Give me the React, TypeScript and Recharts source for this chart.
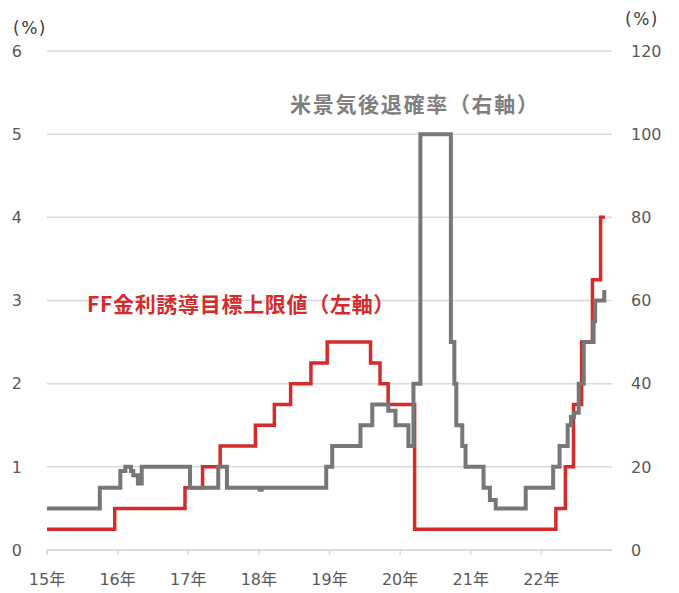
import React from 'react';
import { LineChart, Line, XAxis, YAxis, CartesianGrid } from 'recharts';

// FF金利誘導目標上限値 (left axis, %) — change dates and levels
const ffDates = [
  '2015-01-01', '2015-12-17', '2016-12-15', '2017-03-16', '2017-06-15',
  '2017-12-14', '2018-03-22', '2018-06-14', '2018-09-27', '2018-12-20',
  '2019-08-01', '2019-09-19', '2019-10-31', '2020-03-16', '2022-03-17',
  '2022-05-05', '2022-06-16', '2022-07-28', '2022-09-22', '2022-11-03',
  '2022-11-25',
];
const ffUpper = [
  0.25, 0.5, 0.75, 1.0, 1.25,
  1.5, 1.75, 2.0, 2.25, 2.5,
  2.25, 2.0, 1.75, 0.25, 0.5,
  1.0, 1.75, 2.5, 3.25, 4.0,
  4.0,
];

// 米景気後退確率 (right axis, %)
const recDates = [
  '2015-01-01', '2015-10-01', '2016-01-15', '2016-02-10', '2016-03-10',
  '2016-03-22', '2016-04-15', '2016-05-05', '2017-01-10', '2017-06-05',
  '2017-07-20', '2018-01-05', '2018-01-15', '2018-12-15', '2019-01-15',
  '2019-06-10', '2019-08-10', '2019-11-01', '2019-12-08', '2020-02-13',
  '2020-03-10', '2020-04-15', '2020-09-20', '2020-10-08', '2020-10-18',
  '2020-11-18', '2020-12-05', '2021-03-08', '2021-04-10', '2021-05-10',
  '2021-10-12', '2022-03-03', '2022-04-05', '2022-05-17', '2022-06-03',
  '2022-06-18', '2022-07-13', '2022-08-08', '2022-09-28', '2022-10-06',
  '2022-11-22',
];
const recProb = [
  10, 15, 19, 20, 19,
  18, 16, 20, 15, 20,
  15, 14.5, 15, 20, 25,
  30, 35, 33.5, 30, 25,
  40, 100, 50, 40, 30,
  25, 20, 15, 12, 10,
  15, 20, 25, 30, 32,
  33, 40, 50, 55, 60,
  62.5,
];

const yearTicks = [2015, 2016, 2017, 2018, 2019, 2020, 2021, 2022];
const leftTicks = [0, 1, 2, 3, 4, 5, 6];
const rightTicks = [0, 20, 40, 60, 80, 100, 120];

const toYear = (s: string) => {
  const [y, m, d] = s.split('-').map(Number);
  const start = Date.UTC(y, 0, 1);
  const end = Date.UTC(y + 1, 0, 1);
  return y + (Date.UTC(y, m - 1, d) - start) / (end - start);
};

const ffData = ffDates.map((d, i) => ({ t: toYear(d), v: ffUpper[i] }));
const recData = recDates.map((d, i) => ({ t: toYear(d), v: recProb[i] }));

const baseFont = '"DejaVu Sans", "Noto Sans CJK JP", sans-serif';
const tickFont = { fontSize: 16, fill: '#595959', fontFamily: baseFont };
const jpFont = '"Noto Sans CJK JP", sans-serif';

export default function App() {
  return (
    <div style={{ position: 'relative', width: 679, height: 593, background: '#fff' }}>
      <style>{'body{margin:0}'}</style>
      <LineChart width={679} height={593} margin={{ top: 51, right: 0, bottom: 0, left: 0 }}>
        <CartesianGrid yAxisId="left" vertical={false} stroke="#d9d9d9" strokeWidth={1.5} />
        <XAxis
          dataKey="t"
          type="number"
          domain={[2015, 2023]}
          ticks={yearTicks}
          allowDataOverflow
          tickFormatter={(v: number) => `${v - 2000}年`}
          height={43}
          tickSize={5}
          tickMargin={19}
          stroke="#d9d9d9"
          strokeWidth={1.5}
          tick={tickFont}
        />
        <YAxis
          yAxisId="left"
          domain={[0, 6]}
          ticks={leftTicks}
          width={47}
          axisLine={false}
          tickLine={false}
          tickSize={0}
          tickMargin={25}
          tick={tickFont}
        />
        <YAxis
          yAxisId="right"
          orientation="right"
          domain={[0, 120]}
          ticks={rightTicks}
          width={67}
          axisLine={false}
          tickLine={false}
          tickSize={0}
          tickMargin={19}
          tick={{ ...tickFont, textAnchor: 'start' }}
        />
        <Line
          yAxisId="left"
          data={ffData}
          dataKey="v"
          type="stepAfter"
          stroke="#d52b2b"
          strokeWidth={3.5}
          dot={false}
          activeDot={false}
          isAnimationActive={false}
        />
        <Line
          yAxisId="right"
          data={recData}
          dataKey="v"
          type="stepAfter"
          stroke="#777777"
          strokeWidth={4}
          dot={false}
          activeDot={false}
          isAnimationActive={false}
        />
      </LineChart>
      <div style={{ position: 'absolute', left: 13, top: 18, fontSize: 17, letterSpacing: 1.5, color: '#404040', fontFamily: baseFont }}>(%)</div>
      <div style={{ position: 'absolute', left: 625, top: 9, fontSize: 17, letterSpacing: 1.5, color: '#404040', fontFamily: baseFont }}>(%)</div>
      <div style={{ position: 'absolute', left: 290, top: 93, fontSize: 21, lineHeight: 1, fontWeight: 700, color: '#7f7f7f', fontFamily: jpFont, letterSpacing: 1.7, whiteSpace: 'nowrap' }}>
        米景気後退確率（右軸）
      </div>
      <div style={{ position: 'absolute', left: 87, top: 293, fontSize: 21, lineHeight: 1, fontWeight: 700, color: '#d52b2b', fontFamily: jpFont, letterSpacing: 0.7, whiteSpace: 'nowrap' }}>
        FF金利誘導目標上限値（左軸）
      </div>
    </div>
  );
}
